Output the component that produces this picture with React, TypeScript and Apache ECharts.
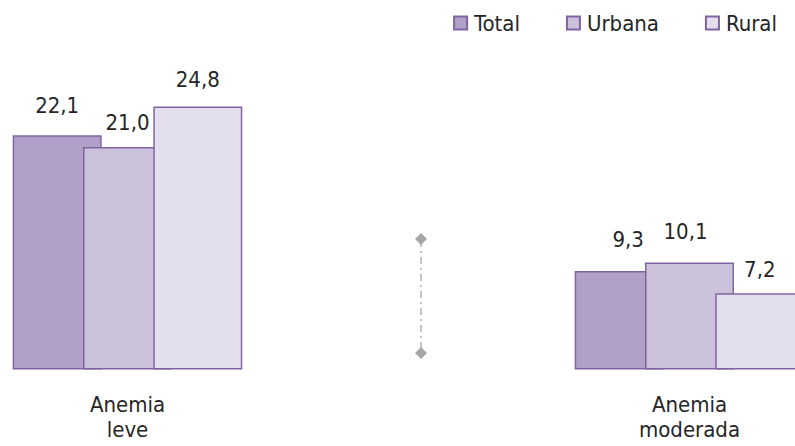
import React, { useEffect, useRef } from "react";
import * as echarts from "echarts";

const categories = ["Anemia\nleve", "", "Anemia\nmoderada"];
const seriesNames = ["Total", "Urbana", "Rural"];
const totalValues = [22.1, null, 9.3];
const urbanaValues = [21.0, null, 10.1];
const ruralValues = [24.8, null, 7.2];
const fillColors = ["#b1a0c7", "#ccc1da", "#e4dfec"];
const borderColor = "#8064a2";
const FONT = "'Liberation Sans Narrow', 'DejaVu Sans Condensed', 'Arial Narrow', sans-serif";

// label placement tweaks (distance above bar, horizontal shift) per series / category
const labelDistances = [
  [19, 0, 20],
  [13, 0, 20],
  [16, 0, 13],
];
const labelShifts = [
  [0, 0, 9],
  [0, 0, -4],
  [0, 0, 0],
];

const OFFSET = 13; // chart canvas extends left of the viewport
const CHART_W = 843;

export default function App() {
  const ref = useRef<HTMLDivElement>(null);
  useEffect(() => {
    if (!ref.current) return;
    const chart = echarts.init(ref.current, undefined, { renderer: "svg" });
    const values = [totalValues, urbanaValues, ruralValues];
    const fmt = (p: any) => (p.value == null ? "" : Number(p.value).toFixed(1).replace(".", ","));
    const sx = 421 + OFFSET;
    chart.setOption({
      animation: false,
      textStyle: { fontFamily: FONT },
      legend: {
        right: CHART_W - (795 + OFFSET) + 13,
        top: 7,
        itemWidth: 13,
        itemHeight: 13,
        itemGap: 46,
        icon: "rect",
        textStyle: { fontFamily: FONT, fontSize: 22, color: "#262626", padding: [0, 0, 0, 2] },
        data: seriesNames,
      },
      grid: { left: 0, right: 0, top: 51.5, bottom: 76.5, containLabel: false },
      xAxis: {
        type: "category",
        data: categories,
        axisLine: { show: false },
        axisTick: { show: false },
        axisLabel: { fontFamily: FONT, fontSize: 22, color: "#262626", lineHeight: 25, margin: 22, interval: 0 },
      },
      yAxis: { type: "value", min: 0, max: 30, show: false, splitLine: { show: false } },
      series: seriesNames.map((name, i) => ({
        name,
        type: "bar",
        data: values[i].map((v, j) =>
          v == null
            ? null
            : { value: v, label: { distance: labelDistances[i][j], offset: [labelShifts[i][j], 0] } }
        ),
        barWidth: 89,
        barGap: "-21%",
        itemStyle: { color: fillColors[i], borderColor, borderWidth: 1.5 },
        label: {
          show: true,
          position: "top",
          distance: 14,
          fontFamily: FONT,
          fontSize: 22,
          color: "#262626",
          formatter: fmt,
        },
      })),
      graphic: [
        {
          type: "line",
          shape: { x1: sx, y1: 240, x2: sx, y2: 353 },
          style: { stroke: "#b3b3b3", lineWidth: 1.5, lineDash: [7, 4, 2, 4] },
        },
        {
          type: "polygon",
          shape: { points: [[sx, 233], [sx + 6, 239], [sx, 245], [sx - 6, 239]] },
          style: { fill: "#a6a6a6" },
        },
        {
          type: "polygon",
          shape: { points: [[sx, 347], [sx + 6, 353], [sx, 359], [sx - 6, 353]] },
          style: { fill: "#a6a6a6" },
        },
      ],
    });
    return () => chart.dispose();
  }, []);
  return (
    <div style={{ width: 795, height: 446, position: "absolute", left: 0, top: 0, overflow: "hidden" }}>
      <div ref={ref} style={{ width: CHART_W, height: 446, position: "absolute", left: -OFFSET, top: 0 }} />
    </div>
  );
}
